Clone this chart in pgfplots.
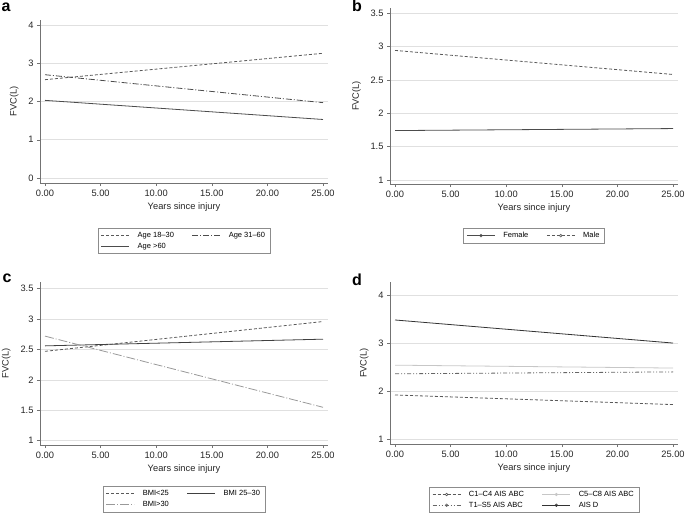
\documentclass[border=0pt]{standalone}
\usepackage{fontspec}
\setmainfont{Liberation Sans}
\usepackage{pgfplots}
\pgfplotsset{compat=1.18}

\pgfplotsset{
  panel/.style={
    scale only axis, width=288pt,
    axis x line*=bottom, axis y line*=left,
    axis line style={-, black!55, line width=0.6pt},
    tick align=outside, major tick length=3pt,
    tick style={black!55, line width=0.5pt},
    xmin=-0.45, xmax=25.45, xtick={0,5,...,25},
    xticklabel={\pgfmathprintnumber[fixed,fixed zerofill,precision=2]{\tick}},
    ymajorgrids, grid style={black!12, line width=0.6pt},
    xlabel={Years since injury}, ylabel={FVC(L)},
    ylabel style={yshift=3pt},
    tick label style={font=\fontsize{9.3}{10}\selectfont, black!85},
    label style={font=\fontsize{9.3}{10}\selectfont, black!85},
    /pgf/number format/assume math mode=true,
    legend style={font=\fontsize{7.5}{9}\selectfont, draw=black!45, anchor=north,
      /tikz/every odd column/.append style={column sep=6pt},
      /tikz/every even column/.append style={column sep=16pt}},
    legend columns=2,
    legend cell align=left,
    legend image code/.code={\draw[#1] (0pt,0pt) -- (28pt,0pt);},
    every axis plot/.append style={line width=0.8pt, no markers},
  },
  markleg/.style={
    legend image code/.code={\draw[##1] (0pt,0pt) -- (28pt,0pt);
      \draw[##1, solid, line width=0.6pt] (14pt,0pt) circle (1.3pt);},
  },
}

\begin{document}
\begin{tikzpicture}
\path[use as bounding box] (0pt,0pt) rectangle (685pt,515pt);

% panel a
\begin{axis}[panel, at={(40pt,332pt)}, anchor=south west, height=163pt,
  ymin=-0.13, ymax=4.13, ytick={0,1,2,3,4},
  legend style={at={(axis description cs:0.5,-0.276)}}]
\addplot[black!65, dash pattern=on 3pt off 2pt] coordinates {(0,2.57) (25,3.26)};
\addlegendentry{Age 18--30}
\addplot[black!70, dash pattern=on 6pt off 2pt on 1pt off 2pt] coordinates {(0,2.70) (25,1.97)};
\addlegendentry{Age 31--60}
\addplot[black!70] coordinates {(0,2.03) (25,1.53)};
\addlegendentry{Age >60}
\end{axis}

% panel b
\begin{axis}[panel, markleg, at={(390pt,331pt)}, anchor=south west, height=176pt,
  ymin=0.94, ymax=3.575, ytick={1,1.5,2,2.5,3,3.5},
  legend style={at={(axis description cs:0.5,-0.25)}}]
\addplot[black!70] coordinates {(0,1.74) (25,1.77)};
\addlegendentry{Female}
\addplot[black!65, dash pattern=on 3pt off 2pt] coordinates {(0,2.94) (25,2.58)};
\addlegendentry{Male}
\end{axis}

% panel c
\begin{axis}[panel, at={(40pt,70pt)}, anchor=south west, height=163pt,
  ymin=0.93, ymax=3.61, ytick={1,1.5,2,2.5,3,3.5},
  legend style={at={(axis description cs:0.5,-0.252)}}]
\addplot[black!65, dash pattern=on 3pt off 2pt] coordinates {(0,2.47) (25,2.96)};
\addlegendentry{BMI<25}
\addplot[black!75] coordinates {(0,2.56) (25,2.67)};
\addlegendentry{BMI 25--30}
\addplot[black!40, dash pattern=on 9pt off 2pt on 1pt off 2pt] coordinates {(0,2.72) (25,1.55)};
\addlegendentry{BMI>30}
\end{axis}

% panel d
\begin{axis}[panel, markleg, at={(390pt,71pt)}, anchor=south west, height=162pt,
  ymin=0.9, ymax=4.27, ytick={1,2,3,4},
  legend style={at={(axis description cs:0.5,-0.265)}}]
\addplot[black!65, dash pattern=on 3pt off 2pt] coordinates {(0,1.92) (25,1.72)};
\addlegendentry{C1--C4 AIS ABC}
\addplot[black!22] coordinates {(0,2.54) (25,2.48)};
\addlegendentry{C5--C8 AIS ABC}
\addplot[black!60, dash pattern=on 4pt off 2pt on 1pt off 2pt on 1pt off 2pt] coordinates {(0,2.36) (25,2.40)};
\addlegendentry{T1--S5 AIS ABC}
\addplot[black!80] coordinates {(0,3.48) (25,3.00)};
\addlegendentry{AIS D}
\end{axis}

\node[font=\fontsize{16}{16}\selectfont\bfseries] at (6pt,508pt) {a};
\node[font=\fontsize{16}{16}\selectfont\bfseries] at (357pt,509pt) {b};
\node[font=\fontsize{16}{16}\selectfont\bfseries] at (7pt,237pt) {c};
\node[font=\fontsize{16}{16}\selectfont\bfseries] at (357pt,235pt) {d};
\end{tikzpicture}
\end{document}
